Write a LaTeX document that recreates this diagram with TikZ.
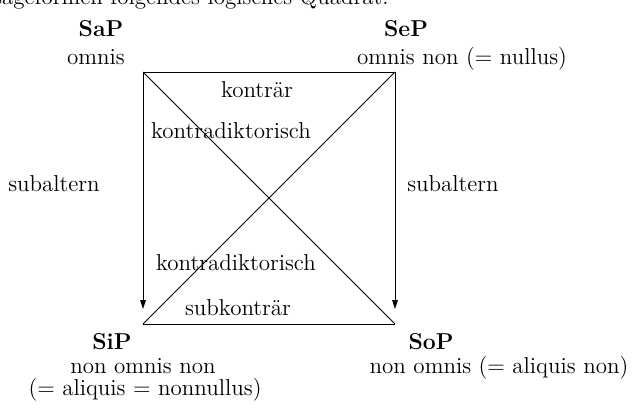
\documentclass[tikz,border=0pt]{standalone}
\usepackage{tikz}
\usetikzlibrary{arrows.meta}

\begin{document}
\begin{tikzpicture}[
          x=0.5pt, y=-0.5pt,
          lbl/.style={anchor=base, inner sep=0pt, font=\fontsize{11.5}{13}\selectfont},
          kind/.style={lbl, font=\fontsize{11.5}{13}\selectfont\bfseries},
          sub/.style={-{Triangle[length=4.5pt,width=2.8pt]}, shorten >=7.5pt}
      ]
        \useasboundingbox (0,0) rectangle (635,407);
        \clip (0,0) rectangle (635,407);
        % text line above the square, cut by the page edge
        \node[lbl, anchor=base east] (intro) at (389,4) {Aussageformen folgendes logisches Quadrat:};
        % corners of the square
        \coordinate (a) at (143,72);
        \coordinate (e) at (395,72);
        \coordinate (i) at (143,324);
        \coordinate (o) at (395,324);
        \draw (a) -- (e);
        \draw (i) -- (o);
        \draw (a) -- (o);
        \draw (e) -- (i);
        \draw[sub] (a) -- (i);
        \draw[sub] (e) -- (o);
        % the four forms
        \node[kind] (sap) at (101,36) {SaP};
        \node[lbl] (sapl) at (96,64) {omnis};
        \node[kind] (sep) at (406,36) {SeP};
        \node[lbl] (sepl) at (462,64) {omnis non (= nullus)};
        \node[kind] (sip) at (112,349) {SiP};
        \node[lbl] (sipl) at (143,373) {non omnis non};
        \node[lbl] (sipm) at (145,395) {(= aliquis = nonnullus)};
        \node[kind] (sop) at (431,349) {SoP};
        \node[lbl] (sopl) at (499,373) {non omnis (= aliquis non)};
        % relations
        \node[lbl] (kontr) at (257,97) {konträr};
        \node[lbl] (kdtop) at (231,138) {kontradiktorisch};
        \node[lbl] (subl) at (54,191) {subaltern};
        \node[lbl] (subr) at (453,191) {subaltern};
        \node[lbl] (kdbot) at (236,270) {kontradiktorisch};
        \node[lbl] (subk) at (238,315) {subkonträr};
      \end{tikzpicture}
\end{document}
